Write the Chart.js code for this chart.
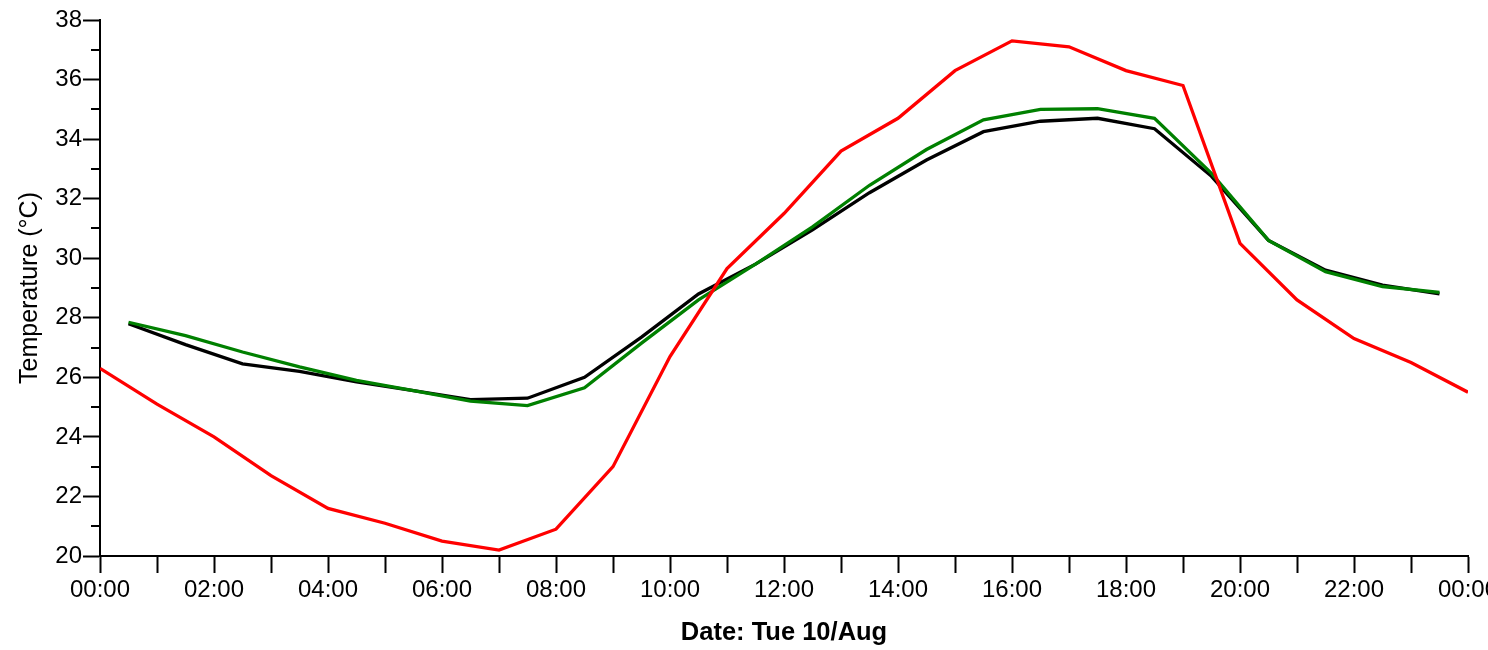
<!DOCTYPE html>
<html>
<head>
<meta charset="utf-8">
<script src="https://cdn.jsdelivr.net/npm/chart.js@4/dist/chart.umd.min.js"></script>
<style>
  html, body { margin: 0; padding: 0; background: #fff; overflow: hidden; }
  #wrap { width: 1488px; height: 650px; position: relative; }
</style>
</head>
<body>
<div id="wrap"><canvas id="tempChart"></canvas></div>
<script>
// hourly readings (red) and half-hour readings (black, green)
const redHours   = [0, 1, 2, 3, 4, 5, 6, 7, 8, 9, 10, 11, 12, 13, 14, 15, 16, 17, 18, 19, 20, 21, 22, 23, 24];
const redTemps   = [26.3, 25.1, 24.0, 22.7, 21.6, 21.1, 20.5, 20.2, 20.9, 23.0, 26.7, 29.65, 31.5, 33.6, 34.7, 36.3,
                    37.3, 37.1, 36.3, 35.8, 30.5, 28.6, 27.3, 26.5, 25.5];
const halfHours  = [0.5, 1.5, 2.5, 3.5, 4.5, 5.5, 6.5, 7.5, 8.5, 9.5, 10.5, 11.5, 12.5, 13.5, 14.5, 15.5,
                    16.5, 17.5, 18.5, 19.5, 20.5, 21.5, 22.5, 23.5];
const blackTemps = [27.8, 27.1, 26.45, 26.2, 25.85, 25.55, 25.25, 25.3, 26.0, 27.35, 28.8, 29.8, 30.95, 32.2, 33.3, 34.25,
                    34.6, 34.7, 34.35, 32.75, 30.6, 29.6, 29.1, 28.8];
const greenTemps = [27.85, 27.4, 26.85, 26.35, 25.9, 25.55, 25.2, 25.05, 25.65, 27.15, 28.6, 29.8, 31.05, 32.45, 33.65, 34.65,
                    35.0, 35.02, 34.7, 32.85, 30.6, 29.55, 29.05, 28.85];

const xTickLabels = ['00:00', '02:00', '04:00', '06:00', '08:00', '10:00', '12:00',
                     '14:00', '16:00', '18:00', '20:00', '22:00', '00:00'];

const toPoints = (xs, ys) => xs.map((x, i) => ({ x, y: ys[i] }));

Chart.defaults.font.family = "'Liberation Sans', Arial, sans-serif";
Chart.defaults.color = '#000';

// short minor ticks on the y axis (odd degrees)
const minorTicks = {
  id: 'minorTicks',
  afterDraw(chart) {
    const y = chart.scales.y;
    const ctx = chart.ctx;
    ctx.save();
    ctx.strokeStyle = '#000';
    ctx.lineWidth = 2;
    for (let v = 21; v < 38; v += 2) {
      const py = Math.round(y.getPixelForValue(v));
      ctx.beginPath();
      ctx.moveTo(y.right - 9, py);
      ctx.lineTo(y.right, py);
      ctx.stroke();
    }
    ctx.restore();
  }
};

new Chart(document.getElementById('tempChart').getContext('2d'), {
  type: 'line',
  data: {
    datasets: [
      { label: 'Red', data: toPoints(redHours, redTemps), borderColor: '#ff0000' },
      { label: 'Green', data: toPoints(halfHours, greenTemps), borderColor: '#008000' },
      { label: 'Black', data: toPoints(halfHours, blackTemps), borderColor: '#000000' }
    ]
  },
  options: {
    responsive: true,
    maintainAspectRatio: false,
    animation: false,
    elements: {
      line: { borderWidth: 3.3, tension: 0, fill: false },
      point: { radius: 0, hoverRadius: 0 }
    },
    layout: { padding: { top: 20, right: 20, left: 0, bottom: 0 } },
    plugins: { legend: { display: false }, tooltip: { enabled: false } },
    scales: {
      x: {
        type: 'linear',
        min: 0,
        max: 24,
        border: { color: '#000', width: 2 },
        grid: { drawOnChartArea: false, tickLength: 17, tickWidth: 2, tickColor: '#000' },
        ticks: {
          stepSize: 1,
          autoSkip: false,
          maxRotation: 0,
          padding: 3,
          font: { size: 24 },
          callback: v => (v % 2 === 0 ? xTickLabels[v / 2] : '')
        },
        title: {
          display: true,
          text: 'Date: Tue 10/Aug',
          font: { size: 25.5, weight: 'bold' },
          padding: { top: 0, bottom: 2 }
        },
        afterFit: s => { s.height = 94; s.paddingLeft = 0; s.paddingRight = 0; }
      },
      y: {
        min: 20,
        max: 38,
        border: { color: '#000', width: 2 },
        grid: {
          drawOnChartArea: false,
          tickLength: 17,
          tickWidth: 2,
          tickColor: c => (c.tick && c.tick.value % 2 === 0 ? '#000' : 'rgba(0,0,0,0)')
        },
        ticks: {
          stepSize: 1,
          autoSkip: false,
          padding: 1,
          font: { size: 24 },
          callback: v => (v % 2 === 0 ? String(v) : '')
        },
        title: {
          display: true,
          text: 'Temperature (°C)',
          font: { size: 25 },
          padding: { top: 15, bottom: 0 }
        },
        afterFit: s => { s.width = 100; }
      }
    }
  },
  plugins: [minorTicks]
});
</script>
</body>
</html>
